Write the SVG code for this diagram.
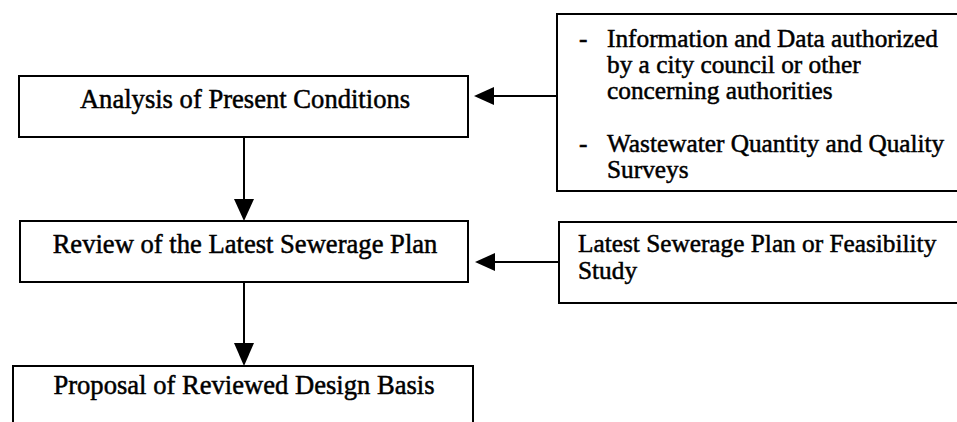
<svg xmlns="http://www.w3.org/2000/svg" width="957" height="422" viewBox="0 0 957 422">
  <style>
    .box { fill: #ffffff; stroke: #000000; stroke-width: 2; }
    .t { font-family: "Liberation Serif", "Times New Roman", serif; fill: #000000; stroke: #000000; stroke-width: 0.5; }
    .main { font-size: 26.6px; text-anchor: middle; }
    .side { font-size: 25.3px; }
    .conn { stroke: #000000; stroke-width: 2; fill: none; }
    .head { fill: #000000; }
  </style>
  <rect x="0" y="0" width="957" height="422" fill="#ffffff"/>

  <g id="connectors">
    <line class="conn" x1="244" y1="137" x2="244" y2="202"/>
    <polygon class="head" points="234,199 254,199 244,221"/>
    <line class="conn" x1="244" y1="282" x2="244" y2="346"/>
    <polygon class="head" points="234,343 254,343 244,366"/>
    <line class="conn" x1="557" y1="96" x2="490" y2="96"/>
    <polygon class="head" points="494,87 494,105 474,96"/>
    <line class="conn" x1="559" y1="262" x2="492" y2="262"/>
    <polygon class="head" points="495,253 495,271 475,262"/>
  </g>

  <g id="analysis">
    <rect class="box" x="19" y="76" width="449" height="61"/>
    <text class="t main" x="245" y="108">Analysis of Present Conditions</text>
  </g>

  <g id="review">
    <rect class="box" x="20" y="221" width="448" height="61"/>
    <text class="t main" x="245" y="253">Review of the Latest Sewerage Plan</text>
  </g>

  <g id="proposal">
    <rect class="box" x="13" y="366" width="460" height="80"/>
    <text class="t main" x="244" y="394">Proposal of Reviewed Design Basis</text>
  </g>

  <g id="inputs">
    <rect class="box" x="557" y="14" width="420" height="177"/>
    <text class="t side" x="579" y="47">-</text>
    <text class="t side" x="607" y="47">Information and Data authorized</text>
    <text class="t side" x="607" y="73">by a city council or other</text>
    <text class="t side" x="607" y="99">concerning authorities</text>
    <text class="t side" x="579" y="152">-</text>
    <text class="t side" x="607" y="152">Wastewater Quantity and Quality</text>
    <text class="t side" x="607" y="178">Surveys</text>
  </g>

  <g id="latest-plan">
    <rect class="box" x="559" y="222" width="420" height="81"/>
    <text class="t side" x="578" y="252">Latest Sewerage Plan or Feasibility</text>
    <text class="t side" x="578" y="279">Study</text>
  </g>
</svg>
